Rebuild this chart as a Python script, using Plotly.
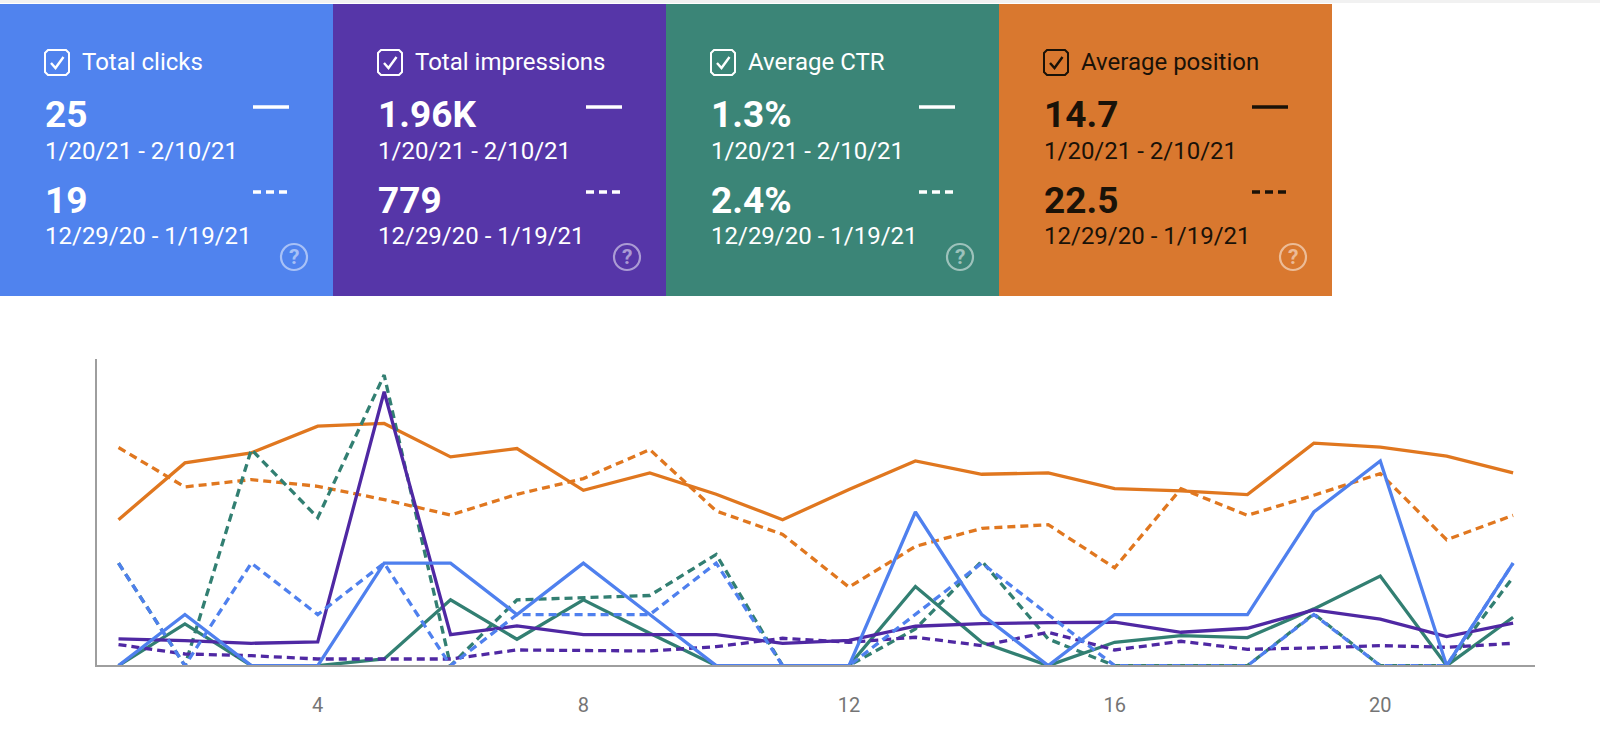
import plotly.graph_objects as go

days = list(range(1, 23))
tick_days = [4, 8, 12, 16, 20]

# heights, arbitrary shared scale (axis top = 918)
position_now = [437, 607, 637, 717, 725, 625, 650, 525, 577, 513, 437, 527, 613, 573, 577, 530, 523, 512, 666, 654, 627, 577]
position_prev = [653, 535, 557, 537, 497, 451, 513, 560, 647, 463, 393, 235, 357, 411, 422, 293, 530, 450, 510, 575, 377, 450]
ctr_now = [0, 125, 0, 0, 20, 197, 79, 197, 97, 0, 0, 0, 237, 70, 0, 70, 90, 84, 170, 268, 0, 145]
ctr_prev = [307, 0, 647, 443, 870, 0, 197, 203, 210, 333, 0, 0, 110, 313, 80, 0, 0, 0, 155, 0, 0, 265]
impressions_now = [80, 75, 67, 71, 820, 93, 119, 93, 93, 93, 67, 76, 118, 126, 129, 130, 100, 112, 167, 139, 87, 127]
impressions_prev = [63, 35, 30, 20, 20, 20, 47, 45, 44, 57, 82, 70, 85, 60, 100, 47, 73, 49, 53, 60, 55, 67]
clicks_now = [0, 153, 0, 0, 307, 307, 153, 307, 153, 0, 0, 0, 460, 153, 0, 153, 153, 153, 460, 613, 0, 307]
clicks_prev = [307, 0, 307, 153, 307, 0, 153, 153, 153, 307, 0, 0, 153, 307, 153, 0, 0, 0, 153, 0, 0, 307]

card_titles = ["Total clicks", "Total impressions", "Average CTR", "Average position"]
card_now = ["25", "1.96K", "1.3%", "14.7"]
card_prev = ["19", "779", "2.4%", "22.5"]
range_now = "1/20/21 - 2/10/21"
range_prev = "12/29/20 - 1/19/21"

BLUE, PURPLE, TEAL, ORANGE = "#4f80ee", "#4f28a3", "#327f72", "#e0771f"
CARD = ["#5083ee", "#5636a8", "#3b8577", "#d9782f"]
INK = ["#ffffff", "#ffffff", "#ffffff", "#1a1208"]
CARD_X = [0, 333, 666, 999, 1332]

L, R, T, B = 97, 1535, 359, 665
fx = lambda x: (x - L) / (R - L)
fy = lambda y: (B - y) / (B - T)

fig = go.Figure()
series = [
    (position_prev, ORANGE, "8px,5px"), (position_now, ORANGE, "solid"),
    (ctr_prev, TEAL, "8px,5px"), (ctr_now, TEAL, "solid"),
    (impressions_prev, PURPLE, "8px,5px"), (impressions_now, PURPLE, "solid"),
    (clicks_prev, BLUE, "8px,5px"), (clicks_now, BLUE, "solid"),
]
for vals, col, dash in series:
    fig.add_trace(go.Scatter(x=days, y=vals, mode="lines", cliponaxis=False,
                             line=dict(color=col, width=3.3, dash=dash), hoverinfo="skip"))

shapes = [dict(type="rect", xref="paper", yref="paper", x0=fx(0), x1=fx(1600), y0=fy(0), y1=fy(3),
               fillcolor="#f1f1f1", line_width=0, layer="below")]
ann = []


def text(x, y, s, size, color, bold=False, anchor="left"):
    ann.append(dict(xref="paper", yref="paper", x=fx(x), y=fy(y), text=f"<b>{s}</b>" if bold else s,
                    showarrow=False, xanchor=anchor, yanchor="middle", xshift=0, borderpad=0,
                    font=dict(family="Roboto", size=size, color=color)))


def path(pts, color, width, closed=False):
    d = "M " + " L ".join(f"{fx(a):.5f},{fy(b):.5f}" for a, b in pts) + (" Z" if closed else "")
    shapes.append(dict(type="path", xref="paper", yref="paper", path=d, line=dict(color=color, width=width)))


for i, title in enumerate(card_titles):
    x0, x1 = CARD_X[i], CARD_X[i + 1]
    ink = INK[i]
    shapes.append(dict(type="rect", xref="paper", yref="paper", x0=fx(x0), x1=fx(x1), y0=fy(4), y1=fy(296),
                       fillcolor=CARD[i], line_width=0, layer="below"))
    # checkbox
    bx = x0 + 45
    r = 3
    path([(bx + r, 50), (bx + 24 - r, 50), (bx + 24, 50 + r), (bx + 24, 75 - r), (bx + 24 - r, 75),
          (bx + r, 75), (bx, 75 - r), (bx, 50 + r)], ink, 2, closed=True)
    path([(bx + 6, 63), (bx + 10.5, 68), (bx + 18.5, 57)], ink, 2.4)
    text(x0 + 80.5, 62.5, title, 24, ink)
    text(x0 + 44, 115, card_now[i], 37, ink, bold=True)
    text(x0 + 44, 150.5, range_now, 24, ink)
    text(x0 + 44, 200, card_prev[i], 37, ink, bold=True)
    text(x0 + 44, 236, range_prev, 24, ink)
    # legend keys
    shapes.append(dict(type="line", xref="paper", yref="paper", x0=fx(x0 + 253), x1=fx(x0 + 289), y0=fy(107), y1=fy(107),
                       line=dict(color=ink, width=3.5)))
    shapes.append(dict(type="line", xref="paper", yref="paper", x0=fx(x0 + 253), x1=fx(x0 + 288), y0=fy(192), y1=fy(192),
                       line=dict(color=ink, width=3.5, dash="8px,5px")))
    # help icon
    cx, cy = x0 + 294, 257
    shapes.append(dict(type="circle", xref="paper", yref="paper", x0=fx(cx - 13), x1=fx(cx + 13), y0=fy(cy - 13), y1=fy(cy + 13),
                       line=dict(color="rgba(255,255,255,0.5)", width=2.2)))
    text(cx, cy, "<b>?</b>", 21, "rgba(255,255,255,0.5)", anchor="center")

fig.update_layout(
    width=1600, height=745, autosize=False, showlegend=False,
    paper_bgcolor="white", plot_bgcolor="white",
    margin=dict(l=L, r=1600 - R, t=T, b=745 - B, pad=0),
    font=dict(family="Roboto", color="#757575", size=16),
    shapes=shapes, annotations=ann,
    xaxis=dict(range=[0.676, 22.33], tickmode="array", tickvals=tick_days, ticktext=[str(d) for d in tick_days],
               showgrid=False, zeroline=False, showline=True, linecolor="#9e9e9e", linewidth=1.5,
               ticks="", ticklabelstandoff=21, tickfont=dict(family="Roboto", size=20, color="#757575")),
    yaxis=dict(range=[2, 918], showgrid=False, zeroline=False, showline=True, linecolor="#9e9e9e", linewidth=1.5,
               ticks="", showticklabels=False),
)
fig.write_html("out.html", config={"displayModeBar": False},
               post_script="document.body.style.margin='0';document.body.style.overflow='hidden';")
